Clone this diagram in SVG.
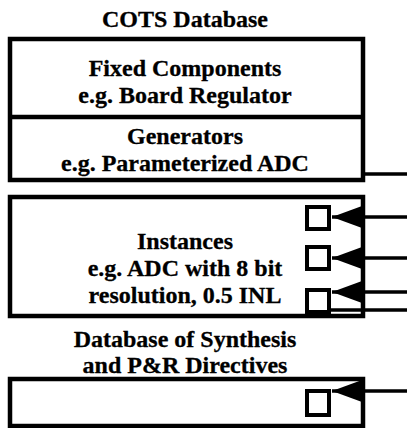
<svg xmlns="http://www.w3.org/2000/svg" width="407" height="428" viewBox="0 0 407 428">
<style>
.box{fill:none;stroke:#000;stroke-width:4.5}
.port{fill:none;stroke:#000;stroke-width:4}
.t{font-family:'Liberation Serif','Times New Roman',Times,serif;font-weight:700;font-size:24px;fill:#000;stroke:#000;stroke-width:0.3;text-anchor:middle}
.c{stroke:#000;stroke-width:3.5;fill:none}
</style>
<defs>
<marker id="ah" viewBox="0 0 30 22" refX="30" refY="11" markerWidth="30" markerHeight="22" markerUnits="userSpaceOnUse" orient="auto">
<path d="M0,0 L30,11 L0,22 z" fill="#000"/>
</marker>
</defs>
<rect width="407" height="428" fill="#fff"/>
<g id="cots">
<text class="t" x="185" y="27">COTS Database</text>
<rect class="box" x="10" y="39" width="353" height="141"/>
</g>
<g id="fixed">
<line class="box" x1="10" y1="117" x2="363" y2="117"/>
<text class="t" x="185" y="76">Fixed Components</text>
<text class="t" x="185" y="103">e.g. Board Regulator</text>
</g>
<g id="generators">
<text class="t" x="185" y="144">Generators</text>
<text class="t" x="185" y="171">e.g. Parameterized ADC</text>
</g>
<g id="instances">
<rect class="box" x="10" y="197" width="353" height="119"/>
<text class="t" x="185" y="249">Instances</text>
<text class="t" x="185" y="276">e.g. ADC with 8 bit</text>
<text class="t" x="185" y="303">resolution, 0.5 INL</text>
<rect class="port" x="307" y="207" width="22" height="22"/>
<rect class="port" x="307" y="247" width="22" height="22"/>
<rect class="port" x="307" y="290" width="22" height="22"/>
</g>
<g id="directives">
<text class="t" x="185" y="347">Database of Synthesis</text>
<text class="t" x="185" y="373">and P&amp;R Directives</text>
<rect class="box" x="10" y="379" width="353" height="47"/>
<rect class="port" x="307" y="391" width="22" height="24"/>
</g>
<g id="connectors">
<line class="c" x1="363" y1="174" x2="407" y2="174"/>
<line class="c" x1="407" y1="217" x2="332" y2="217" marker-end="url(#ah)"/>
<line class="c" x1="407" y1="258" x2="332" y2="258" marker-end="url(#ah)"/>
<line class="c" x1="407" y1="292" x2="332" y2="292" marker-end="url(#ah)"/>
<line class="c" x1="329" y1="310" x2="407" y2="310"/>
<line class="c" x1="407" y1="391" x2="332" y2="391" marker-end="url(#ah)"/>
</g>
</svg>
